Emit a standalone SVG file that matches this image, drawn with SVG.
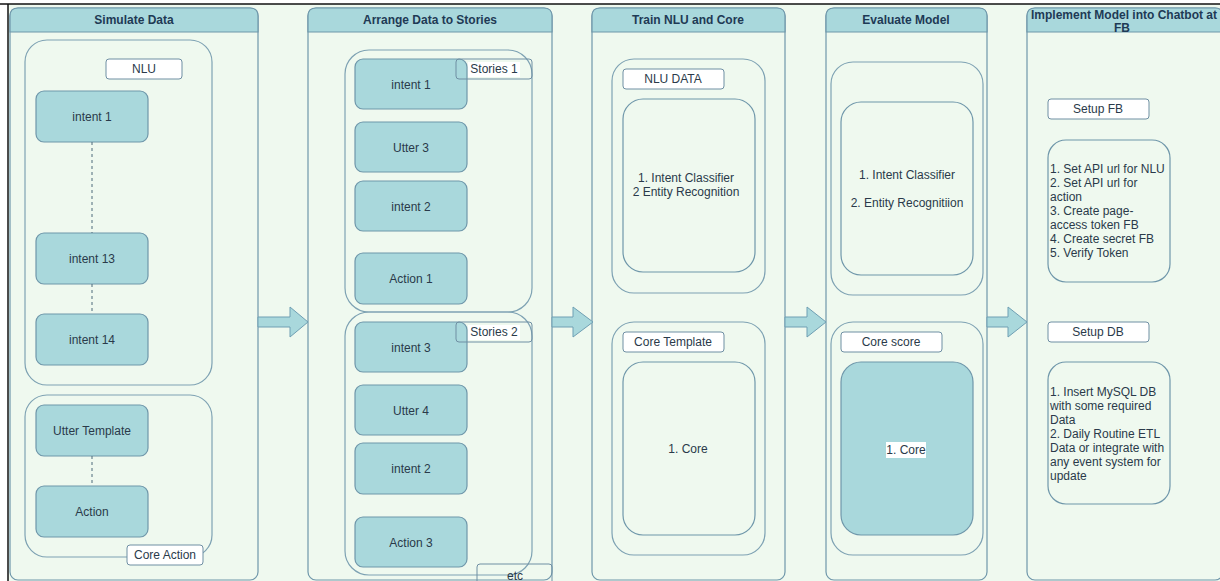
<svg xmlns="http://www.w3.org/2000/svg" width="1220" height="581" viewBox="0 0 1220 581">
<style>
.bg{fill:#eff9ef}
.col{fill:#eff9ef;stroke:#6f97aa;stroke-width:1.2}
.hdr{fill:#a9d8dc;stroke:#6f97aa;stroke-width:1.2}
.ht{font-family:"Liberation Sans",Arial,sans-serif;font-size:12px;font-weight:bold;fill:#1e3a55;text-anchor:middle}
.grp{fill:none;stroke:#7ea2b3;stroke-width:1.2}
.lbl{fill:#ffffff;stroke:#6f8fa3;stroke-width:1}
.lbln{fill:none;stroke:#6f8fa3;stroke-width:1}
.node{fill:#a9d8dc;stroke:#6f97aa;stroke-width:1.2}
.inner{fill:none;stroke:#6f97aa;stroke-width:1.2}
.t{font-family:"Liberation Sans",Arial,sans-serif;font-size:12px;fill:#2a3a4a;text-anchor:middle}
.tl{font-family:"Liberation Sans",Arial,sans-serif;font-size:12px;fill:#2a3a4a}
.dash{stroke:#4d6a7a;stroke-width:1;stroke-dasharray:3,3;fill:none}
.arrow{fill:#a9d8dc;stroke:#6f9fb3;stroke-width:1}
</style>
<rect width="1220" height="581" fill="#ffffff"/>
<rect x="8" y="4" width="1212" height="577" class="bg"/>
<line x1="0" y1="4" x2="1220" y2="4" stroke="#111" stroke-width="1.5"/>
<line x1="8" y1="4" x2="8" y2="581" stroke="#111" stroke-width="1.5"/>

<!-- Column 1 -->
<g id="col-simulate">
<rect x="10" y="8" width="248" height="572" rx="8" class="col"/>
<path d="M10 32 V16 Q10 8 18 8 H250 Q258 8 258 16 V32 Z" class="hdr"/>
<text x="134" y="24" class="ht">Simulate Data</text>
</g>
<g id="grp-nlu">
<rect x="25" y="40" width="187" height="345" rx="22" class="grp"/>
<rect x="106" y="59" width="76" height="20" rx="3" class="lbl"/>
<text x="144" y="73" class="t">NLU</text>
</g>
<g id="s-intent1"><rect x="36" y="91" width="112" height="51" rx="8" class="node"/><text x="92" y="121" class="t">intent 1</text></g>
<g id="s-intent13"><rect x="36" y="233" width="112" height="51" rx="8" class="node"/><text x="92" y="263" class="t">intent 13</text></g>
<g id="s-intent14"><rect x="36" y="314" width="112" height="51" rx="8" class="node"/><text x="92" y="344" class="t">intent 14</text></g>
<g id="grp-coreaction">
<rect x="25" y="395" width="187" height="162" rx="22" class="grp"/>
</g>
<g id="s-utter"><rect x="36" y="405" width="112" height="51" rx="8" class="node"/><text x="92" y="435" class="t">Utter Template</text></g>
<g id="s-action"><rect x="36" y="486" width="112" height="51" rx="8" class="node"/><text x="92" y="516" class="t">Action</text></g>
<g id="lbl-coreaction"><rect x="127" y="545" width="76" height="20" rx="3" class="lbl"/><text x="165" y="559" class="t">Core Action</text></g>

<!-- Column 2 -->
<g id="col-arrange">
<rect x="308" y="8" width="244" height="572" rx="8" class="col"/>
<path d="M308 32 V16 Q308 8 316 8 H544 Q552 8 552 16 V32 Z" class="hdr"/>
<text x="430" y="24" class="ht">Arrange Data to Stories</text>
</g>
<g id="grp-stories1"><rect x="345" y="50" width="187" height="262" rx="24" class="grp"/></g>
<g id="grp-stories2"><rect x="345" y="312" width="187" height="263" rx="24" class="grp"/></g>
<g id="a-intent1"><rect x="355" y="59" width="112" height="50" rx="8" class="node"/><text x="411" y="89" class="t">intent 1</text></g>
<g id="lbl-stories1"><rect x="456" y="59" width="76" height="20" rx="3" class="lbln"/><rect x="468" y="62" width="52" height="15" fill="#ffffff"/><text x="494" y="73" class="t">Stories 1</text></g>
<g id="a-utter3"><rect x="355" y="122" width="112" height="50" rx="8" class="node"/><text x="411" y="152" class="t">Utter 3</text></g>
<g id="a-intent2"><rect x="355" y="181" width="112" height="50" rx="8" class="node"/><text x="411" y="211" class="t">intent 2</text></g>
<g id="a-action1"><rect x="355" y="253" width="112" height="51" rx="8" class="node"/><text x="411" y="283" class="t">Action 1</text></g>
<g id="a-intent3"><rect x="355" y="322" width="112" height="50" rx="8" class="node"/><text x="411" y="352" class="t">intent 3</text></g>
<g id="lbl-stories2"><rect x="456" y="322" width="76" height="20" rx="3" class="lbln"/><rect x="468" y="325" width="52" height="15" fill="#ffffff"/><text x="494" y="336" class="t">Stories 2</text></g>
<g id="a-utter4"><rect x="355" y="385" width="112" height="50" rx="8" class="node"/><text x="411" y="415" class="t">Utter 4</text></g>
<g id="a-intent2b"><rect x="355" y="443" width="112" height="51" rx="8" class="node"/><text x="411" y="473" class="t">intent 2</text></g>
<g id="a-action3"><rect x="355" y="517" width="112" height="50" rx="8" class="node"/><text x="411" y="547" class="t">Action 3</text></g>
<g id="lbl-etc"><rect x="477" y="564" width="75" height="24" rx="3" fill="none" stroke="#6f8fa3" stroke-width="1"/><text x="515" y="580" class="t">etc</text></g>

<!-- Column 3 -->
<g id="col-train">
<rect x="592" y="8" width="193" height="572" rx="8" class="col"/>
<path d="M592 32 V16 Q592 8 600 8 H777 Q785 8 785 16 V32 Z" class="hdr"/>
<text x="688" y="24" class="ht">Train NLU and Core</text>
</g>
<g id="grp-nludata">
<rect x="612" y="59" width="153" height="234" rx="22" class="grp"/>
<rect x="623" y="69" width="101" height="20" rx="3" class="lbl"/>
<text x="673" y="83" class="t">NLU DATA</text>
</g>
<g id="t-nlu">
<rect x="623" y="99" width="132" height="173" rx="20" class="inner"/>
<text x="686" y="182" class="t">1. Intent Classifier</text>
<text x="686" y="196" class="t">2 Entity Recognition</text>
</g>
<g id="grp-coretemplate">
<rect x="612" y="322" width="153" height="233" rx="22" class="grp"/>
<rect x="623" y="332" width="101" height="20" rx="3" class="lbl"/>
<text x="673" y="346" class="t">Core Template</text>
</g>
<g id="t-core">
<rect x="623" y="362" width="132" height="173" rx="20" class="inner"/>
<text x="688" y="453" class="t">1. Core</text>
</g>

<!-- Column 4 -->
<g id="col-evaluate">
<rect x="826" y="8" width="161" height="572" rx="8" class="col"/>
<path d="M826 32 V16 Q826 8 834 8 H979 Q987 8 987 16 V32 Z" class="hdr"/>
<text x="906" y="24" class="ht">Evaluate Model</text>
</g>
<g id="grp-evalnlu"><rect x="831" y="62" width="152" height="233" rx="22" class="grp"/></g>
<g id="e-nlu">
<rect x="841" y="102" width="132" height="173" rx="20" class="inner"/>
<text x="907" y="179" class="t">1. Intent Classifier</text>
<text x="907" y="207" class="t">2. Entity Recognitiion</text>
</g>
<g id="grp-corescore">
<rect x="831" y="322" width="152" height="233" rx="22" class="grp"/>
<rect x="841" y="332" width="101" height="20" rx="3" class="lbl"/>
<text x="891" y="346" class="t">Core score</text>
</g>
<g id="e-core">
<rect x="841" y="362" width="132" height="173" rx="20" class="node"/>
<rect x="886" y="442" width="40" height="16" fill="#ffffff"/>
<text x="906" y="454" class="t">1. Core</text>
</g>

<!-- Column 5 -->
<g id="col-implement">
<rect x="1027" y="8" width="196" height="572" rx="8" class="col"/>
<path d="M1027 32 V16 Q1027 8 1035 8 H1215 Q1223 8 1223 16 V32 Z" class="hdr"/>
<text x="1124" y="19" class="ht">Implement Model into Chatbot at</text>
<text x="1122" y="32" class="ht">FB</text>
</g>
<g id="lbl-setupfb"><rect x="1048" y="99" width="101" height="20" rx="3" class="lbl"/><text x="1098" y="113" class="t">Setup FB</text></g>
<g id="i-fb">
<rect x="1048" y="140" width="122" height="142" rx="18" class="inner"/>
<text class="tl" x="1050" y="173">1. Set API url for NLU</text>
<text class="tl" x="1050" y="187">2. Set API url for</text>
<text class="tl" x="1050" y="201">action</text>
<text class="tl" x="1050" y="215">3. Create page-</text>
<text class="tl" x="1050" y="229">access token FB</text>
<text class="tl" x="1050" y="243">4. Create secret FB</text>
<text class="tl" x="1050" y="257">5. Verify Token</text>
</g>
<g id="lbl-setupdb"><rect x="1048" y="322" width="101" height="20" rx="3" class="lbl"/><text x="1098" y="336" class="t">Setup DB</text></g>
<g id="i-db">
<rect x="1048" y="362" width="122" height="142" rx="18" class="inner"/>
<text class="tl" x="1050" y="396">1. Insert MySQL DB</text>
<text class="tl" x="1050" y="410">with some required</text>
<text class="tl" x="1050" y="424">Data</text>
<text class="tl" x="1050" y="438">2. Daily Routine ETL</text>
<text class="tl" x="1050" y="452">Data or integrate with</text>
<text class="tl" x="1050" y="466">any event system for</text>
<text class="tl" x="1050" y="480">update</text>
</g>

<!-- Connectors -->
<g id="connectors">
<line x1="92" y1="142" x2="92" y2="233" class="dash"/>
<line x1="92" y1="284" x2="92" y2="314" class="dash"/>
<line x1="92" y1="456" x2="92" y2="486" class="dash"/>
<polygon points="258,317 290,317 290,307 308,322 290,337 290,327 258,327" class="arrow"/>
<polygon points="552,317 573,317 573,307 593,322 573,337 573,327 552,327" class="arrow"/>
<polygon points="785,317 807,317 807,307 826,322 807,337 807,327 785,327" class="arrow"/>
<polygon points="987,317 1008,317 1008,307 1027,322 1008,337 1008,327 987,327" class="arrow"/>
</g>
</svg>
